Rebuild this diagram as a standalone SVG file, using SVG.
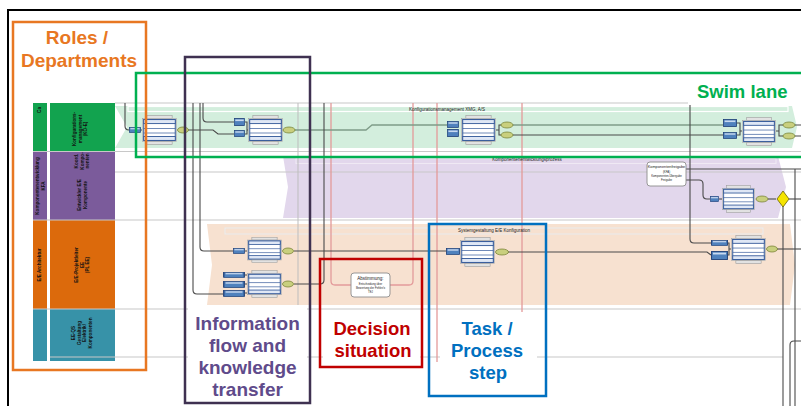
<svg xmlns="http://www.w3.org/2000/svg" width="801" height="406" viewBox="0 0 801 406">
  <style>
    .lane-line { stroke: #c8c8c8; stroke-width: 1.2; fill: none; }
    .conn { fill: none; stroke: #4a4a4a; stroke-width: 1.1; }
    .conn-g { fill: none; stroke: #7f9c88; stroke-width: 1.3; }
    .conn-red { fill: none; stroke: #e39a9a; stroke-width: 1.3; }
    .faint { fill: none; stroke: #bdbdbd; stroke-width: 1; }
    .out { fill: #c9cf7e; stroke: #6f7a2a; stroke-width: 0.7; }
    .tiny { font-family: "Liberation Sans", Arial, sans-serif; font-size: 4.5px; fill: #222; text-anchor: middle; }
    .t3 { font-size: 2.8px; }
    .t4 { font-size: 3.8px; }
    .cell { font-family: "Liberation Sans", Arial, sans-serif; font-size: 4.6px; font-weight: bold; fill: #111; text-anchor: middle; }
    .big { font-family: "Liberation Sans", Arial, sans-serif; font-weight: bold; text-anchor: middle; }
    .big-start { font-family: "Liberation Sans", Arial, sans-serif; font-weight: bold; text-anchor: start; }
    .frame { fill: none; stroke-width: 2.5; }
  </style>
  <defs>
    <symbol id="fn" viewBox="0 0 36 30" preserveAspectRatio="none">
      <rect x="5" y="0.5" width="26" height="3" fill="#e2e2e2" stroke="#9a9a9a" stroke-width="0.6"/>
      <rect x="0.5" y="3.5" width="35" height="23" fill="#f2f2f2" stroke="#a0a0a0" stroke-width="0.6"/>
      <rect x="1.8" y="4.6" width="32.4" height="20.8" fill="#ffffff" stroke="#2f5597" stroke-width="1"/>
      <rect x="1.8" y="4.6" width="32.4" height="4" fill="#dfe7f5" stroke="#2f5597" stroke-width="0.9"/>
      <line x1="1.8" y1="13.5" x2="34.2" y2="13.5" stroke="#2f5597" stroke-width="0.7"/>
      <line x1="1.8" y1="18" x2="34.2" y2="18" stroke="#2f5597" stroke-width="0.7"/>
      <rect x="1.8" y="21.5" width="32.4" height="3.9" fill="#dfe7f5" stroke="#2f5597" stroke-width="0.9"/>
      <rect x="5" y="26.5" width="26" height="3" fill="#e2e2e2" stroke="#9a9a9a" stroke-width="0.6"/>
    </symbol>
    <symbol id="in" viewBox="0 0 12 7" preserveAspectRatio="none">
      <rect x="0.4" y="0.4" width="11.2" height="6.2" fill="#4f81bd" stroke="#1f3f77" stroke-width="0.7"/>
      <rect x="1.4" y="1.3" width="9.2" height="1.4" fill="#c9d9f0"/>
    </symbol>
  </defs>

  <rect width="801" height="406" fill="#ffffff"/>

  <!-- page frame -->
  <path d="M8,406 V10 H801" fill="none" stroke="#000" stroke-width="2"/>

  <!-- role table on the left -->
  <g id="role-table">
    <rect x="33" y="103" width="14" height="48" fill="#12a34f"/>
    <rect x="50" y="103" width="65" height="48" fill="#12a34f"/>
    <rect x="33" y="151" width="14" height="69" fill="#7b5b9b"/>
    <rect x="50" y="151" width="65" height="69" fill="#7b5b9b"/>
    <rect x="33" y="220" width="14" height="89" fill="#dc6a0c"/>
    <rect x="50" y="220" width="65" height="89" fill="#dc6a0c"/>
    <rect x="33" y="309" width="14" height="52" fill="#3792a8"/>
    <rect x="50" y="309" width="65" height="52" fill="#3792a8"/>
    <text class="cell" transform="translate(41,110) rotate(-90)">Ca</text>
    <text class="cell" transform="translate(40,186) rotate(-90)"><tspan x="0" dy="-1">Komponentenentwicklung</tspan><tspan x="0" dy="5.5">KFA</tspan></text>
    <text class="cell" transform="translate(41,265) rotate(-90)">E/E Architektur</text>
    <text class="cell" transform="translate(80,129) rotate(-90)"><tspan x="0" dy="-4">Konfigurations-</tspan><tspan x="0" dy="5.5">management</tspan><tspan x="0" dy="5.5">(KO-E)</tspan></text>
    <text class="cell" transform="translate(82,161) rotate(-90)"><tspan x="0" dy="-4">Koord.</tspan><tspan x="0" dy="5.5">Kompo-</tspan><tspan x="0" dy="5.5">nenten</tspan></text>
    <text class="cell" transform="translate(82,195) rotate(-90)"><tspan x="0" dy="-1">Entwickler E/E</tspan><tspan x="0" dy="5.5">Komponente</tspan></text>
    <text class="cell" transform="translate(82,265) rotate(-90)"><tspan x="0" dy="-4">E/E-Projektleiter</tspan><tspan x="0" dy="5.5">EE</tspan><tspan x="0" dy="5.5">(PL EE)</tspan></text>
    <text class="cell" transform="translate(83,333) rotate(-90)"><tspan x="0" dy="-8">EE-QS</tspan><tspan x="0" dy="5.5">Gestaltung</tspan><tspan x="0" dy="5.5">Elektrik/</tspan><tspan x="0" dy="5.5">Komponenten</tspan></text>
  </g>

  <!-- lane bands -->
  <g id="bands">
    <polygon points="115,106 792,106 797,127 792,148 115,148 127,127" fill="#d3eedd"/>
    <rect x="128" y="106.5" width="660" height="5" fill="none" stroke="#ffffff" stroke-width="1.2"/>
    <polygon points="283,156 778,156 786,187 778,218 283,218 288,187" fill="#e2d7ec"/>
    <rect x="296" y="158.5" width="480" height="5" fill="none" stroke="#efe9f4" stroke-width="1.1"/>
    <polygon points="207,224 790,224 795,265 790,305 207,305 212,265" fill="#f7e1d0"/>
    <rect x="225" y="228" width="538" height="6" fill="none" stroke="#ececec" stroke-width="1.1"/>
  </g>

  <!-- lane boundaries -->
  <g id="lane-lines">
    <line class="lane-line" x1="115" y1="103" x2="801" y2="103"/>
    <line class="lane-line" x1="33" y1="151.5" x2="801" y2="151.5"/>
    <line class="lane-line" x1="115" y1="172" x2="801" y2="172"/>
    <line class="lane-line" x1="33" y1="220" x2="801" y2="220"/>
    <line class="lane-line" x1="33" y1="309" x2="801" y2="309"/>
    <line class="lane-line" x1="50" y1="357" x2="783" y2="357"/>
  </g>

  <!-- connectors -->
  <g id="connectors">
    <path class="faint" d="M298,103 V305"/>
    <path class="conn-red" d="M331,103 V281 Q331,285 335,285 H409 Q413,285 413,281 V103"/>
    <path class="conn-red" d="M437,103 V362"/>
    <path class="conn-red" d="M522,103 V312"/>
    <path class="conn" d="M125,103 V126 Q125,130 129,130"/>
    <path class="conn" d="M188,130 H213 L218,134 H234"/>
    <path class="conn" d="M203,103 V118 Q203,122 207,122 H234"/>
    <path class="conn" d="M200,103 V247 Q200,251 204,251 H233"/>
    <path class="conn" d="M193,103 V290 Q193,294 197,294 H223"/>
    <path class="conn-g" d="M295,130 H366 L372,125 H447"/>
    <path class="conn-g" d="M513,125 H723"/>
    <path class="conn" d="M513,135 H723"/>
    <path class="conn" d="M795,125 H801 M795,136 H801"/>
    <path class="conn" d="M690,103 V239 Q690,243 694,243 H711"/>
    <path class="conn" stroke-width="1.4" d="M686,169 H801"/>
    <path class="conn" d="M795,169 V406"/>
    <path class="conn" d="M686,180 H699 Q703,180 703,184 V195 Q703,199 707,199 H710"/>
    <path class="conn" d="M768,199 H776"/>
    <path class="conn" stroke="#6a3b3b" d="M789,199 H801"/>
    <path class="conn" d="M783,206 V406"/>
    <path class="conn" stroke="#6b5040" d="M294,251 H446"/>
    <path class="conn" stroke="#6b5040" d="M508,252 H707 L711,255"/>
    <path class="conn" d="M294,284 H320 Q324,284 324,280 V103"/>
    <path class="conn" stroke="#6b5040" d="M777,249 H801"/>
    <path class="conn" d="M790,406 V345 Q790,341 794,341 H801"/>
  </g>

  <!-- process nodes -->
  <g id="node-a">
    <use href="#in" x="129" y="127" width="12" height="6"/>
    <path class="conn" d="M141,130 H142"/>
    <use href="#fn" x="142" y="115" width="35" height="30"/>
    <ellipse class="out" cx="183" cy="130" rx="5.5" ry="3"/>
  </g>
  <g id="node-b">
    <use href="#in" x="234" y="118" width="11" height="8"/>
    <use href="#in" x="234" y="130" width="11" height="7"/>
    <path class="conn" d="M245,122 H247 V130 H248 M245,134 H247 V130"/>
    <use href="#fn" x="248" y="115" width="35" height="30"/>
    <ellipse class="out" cx="289" cy="130" rx="6" ry="3"/>
  </g>
  <g id="node-c">
    <text class="tiny" x="447" y="111">Konfigurationsmanagement XMG, A/S</text>
    <use href="#in" x="447" y="121" width="12" height="7"/>
    <use href="#in" x="447" y="129" width="12" height="8"/>
    <use href="#fn" x="461" y="115" width="35" height="30"/>
    <path class="conn" d="M496,130 H499 V125 H501 M499,130 V135 H501"/>
    <ellipse class="out" cx="507" cy="125" rx="6" ry="3"/>
    <ellipse class="out" cx="507" cy="135" rx="6" ry="3"/>
  </g>
  <g id="node-d">
    <use href="#in" x="723" y="119" width="14" height="8"/>
    <use href="#in" x="723" y="132" width="14" height="7"/>
    <path class="conn" d="M737,123 H740 V131 H742 M737,135 H740 V131"/>
    <use href="#fn" x="742" y="117" width="34" height="29"/>
    <path class="conn" d="M776,131 H779 V125 H783 M779,131 V136 H783"/>
    <ellipse class="out" cx="789" cy="125" rx="6" ry="3"/>
    <ellipse class="out" cx="789" cy="136" rx="6" ry="3"/>
  </g>
  <g id="node-e">
    <text class="tiny" x="527" y="161">Komponentenentwicklungsprozess</text>
    <rect x="647" y="162" width="39" height="24" rx="3" fill="#ffffff" stroke="#8c8c8c" stroke-width="0.9"/>
    <text class="tiny t4" x="666.5" y="168" fill="#2f3f7f">Komponentenfreigabe</text>
    <text class="tiny t3" x="666.5" y="172.5">(KFA)</text>
    <text class="tiny t3" x="666.5" y="176.5">Komponenten-Übergabe</text>
    <text class="tiny t3" x="666.5" y="180.5">Freigabe</text>
  </g>
  <g id="node-f">
    <use href="#in" x="710" y="196" width="9" height="6"/>
    <path class="conn" d="M719,199 H722"/>
    <use href="#fn" x="722" y="185" width="33" height="28"/>
    <ellipse class="out" cx="762" cy="199" rx="6" ry="3"/>
    <polygon points="783,191 789,199 783,207 777,199" fill="#f5e400" stroke="#6a6200" stroke-width="0.8"/>
  </g>
  <g id="node-g1">
    <use href="#in" x="233" y="248" width="12" height="6"/>
    <path class="conn" d="M245,251 H247"/>
    <use href="#fn" x="247" y="237" width="35" height="26"/>
    <ellipse class="out" cx="288" cy="251" rx="5.5" ry="3"/>
  </g>
  <g id="node-g2">
    <use href="#in" x="223" y="272" width="22" height="6"/>
    <use href="#in" x="223" y="281" width="22" height="7"/>
    <use href="#in" x="223" y="290" width="22" height="7"/>
    <path class="conn" d="M245,275 H247 M245,284 H247 M245,293 H247"/>
    <use href="#fn" x="247" y="270" width="35" height="28"/>
    <ellipse class="out" cx="288" cy="284" rx="5.5" ry="3"/>
  </g>
  <g id="node-i">
    <text class="tiny" x="494" y="232">Systemgestaltung E/E Konfiguration</text>
    <use href="#in" x="446" y="248" width="14" height="7"/>
    <use href="#fn" x="460" y="237" width="35" height="30"/>
    <ellipse class="out" cx="502" cy="252" rx="6.5" ry="3"/>
  </g>
  <g id="node-j">
    <rect x="351" y="273" width="39" height="24" rx="3" fill="#ffffff" stroke="#8c8c8c" stroke-width="0.9"/>
    <text class="tiny" x="370.5" y="280">Abstimmung:</text>
    <text class="tiny t3" x="370.5" y="285">Entscheidung über</text>
    <text class="tiny t3" x="370.5" y="289">Bewertung der Fehler/x</text>
    <text class="tiny t3" x="370.5" y="293">TEJ</text>
  </g>
  <g id="node-h">
    <use href="#in" x="711" y="240" width="17" height="6"/>
    <use href="#in" x="711" y="251" width="17" height="9"/>
    <path class="conn" d="M728,243 H729 V249 H731 M728,255 H729 V249"/>
    <use href="#fn" x="731" y="235" width="35" height="29"/>
    <ellipse class="out" cx="772" cy="249" rx="5.5" ry="3"/>
  </g>

  <!-- callouts -->
  <g id="roles-callout">
    <rect class="frame" x="13" y="22" width="133" height="348" stroke="#e87722"/>
    <text class="big" x="77" y="44" font-size="19" fill="#e87722">Roles /</text>
    <text class="big" x="79" y="67" font-size="19" fill="#e87722">Departments</text>
  </g>
  <g id="swimlane-callout">
    <rect x="688" y="76" width="113" height="29" fill="#ffffff"/>
    <rect class="frame" x="136" y="73" width="670" height="84" stroke="#00b050"/>
    <text class="big-start" x="697" y="98" font-size="18.5" fill="#00b050">Swim lane</text>
  </g>
  <g id="information-callout">
    <rect x="188" y="307" width="119" height="94" fill="#ffffff"/>
    <rect class="frame" x="185" y="57" width="125" height="346" stroke="#3f3151"/>
    <text class="big" x="247.5" y="330" font-size="19" fill="#5f4b8b">Information</text>
    <text class="big" x="247.5" y="352" font-size="19" fill="#5f4b8b">flow and</text>
    <text class="big" x="247.5" y="374" font-size="19" fill="#5f4b8b">knowledge</text>
    <text class="big" x="247.5" y="396" font-size="19" fill="#5f4b8b">transfer</text>
  </g>
  <g id="decision-callout">
    <rect x="323" y="312" width="97" height="53" fill="#ffffff"/>
    <rect class="frame" x="320" y="259" width="102" height="108" stroke="#c00000"/>
    <text class="big" x="372" y="335" font-size="18.5" fill="#c00000">Decision</text>
    <text class="big" x="373" y="357" font-size="18.5" fill="#c00000">situation</text>
  </g>
  <g id="task-callout">
    <rect x="440" y="314" width="97" height="79" fill="#ffffff"/>
    <rect class="frame" x="429" y="224" width="117" height="172" stroke="#0070c0"/>
    <text class="big" x="487" y="335" font-size="18.5" fill="#0070c0">Task /</text>
    <text class="big" x="487" y="357" font-size="18.5" fill="#0070c0">Process</text>
    <text class="big" x="488" y="379" font-size="18.5" fill="#0070c0">step</text>
  </g>
</svg>
